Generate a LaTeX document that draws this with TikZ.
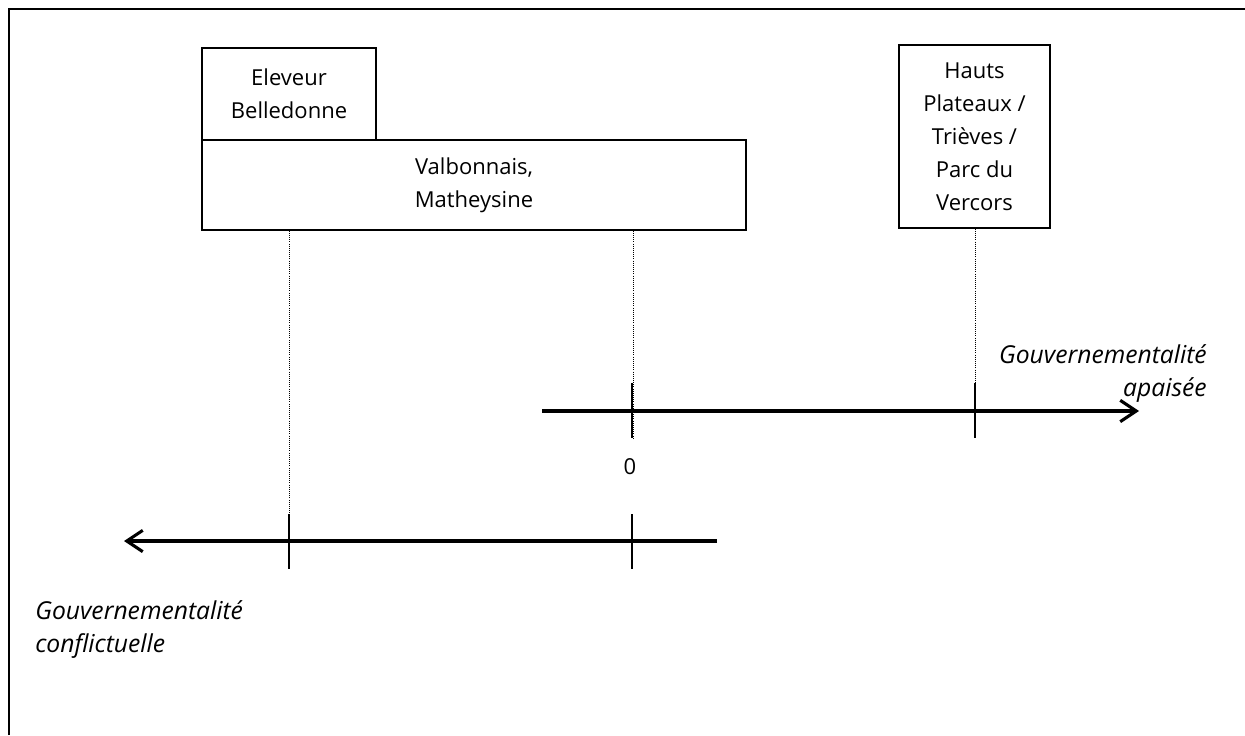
\documentclass[tikz,border=0pt]{standalone}
\usepackage{fontspec}
\setmainfont{Open Sans}
\usetikzlibrary{arrows.meta}
\begin{document}
\begin{tikzpicture}[x=0.75pt,y=-0.75pt,
  box/.style={draw, line width=1.1pt, align=center, inner sep=0pt,
    font=\fontsize{16.5}{24.75}\selectfont},
  axis/.style={line width=2.5pt},
  tick/.style={line width=2pt},
  thintick/.style={line width=1.2pt},
  guide/.style={densely dotted, line width=0.6pt},
  lab/.style={font=\itshape\fontsize{18.5}{24.75}\selectfont, inner sep=0pt},
  barb/.style={-{Straight Barb[length=12pt,width=16pt,line width=2.3pt]}}
]
\useasboundingbox (0,0) rectangle (1245,735);
\draw[line width=2pt] (9,735) -- (9,9) -- (1245,9);

% boxes
\node[box, minimum width=174*0.75pt, minimum height=92*0.75pt] (elev) at (289,94) {Eleveur\\Belledonne};
\node[box, minimum width=544*0.75pt, minimum height=90*0.75pt] (valb) at (474,185) {Valbonnais,\\Matheysine};
\node[box, minimum width=151*0.75pt, minimum height=183*0.75pt] (haut) at (974.5,136.5) {Hauts\\Plateaux /\\Trièves /\\Parc du\\Vercors};

% upper axis
\coordinate (ua) at (542,411);
\coordinate (ub) at (1139,411);
\draw[axis, barb] (ua) -- (ub);
\coordinate (t0a) at (632,383);
\coordinate (t0b) at (632,438);
\coordinate (t1a) at (975,383);
\coordinate (t1b) at (975,438);
\draw[tick] (t0a) -- (t0b);
\draw[tick] (t1a) -- (t1b);
\node[font=\fontsize{16.5}{18}\selectfont, inner sep=0pt] (zero) at (630,467) {0};

% lower axis
\coordinate (la) at (717,541);
\coordinate (lb) at (124,541);
\draw[axis, barb] (la) -- (lb);
\coordinate (s0a) at (289,514);
\coordinate (s0b) at (289,569);
\coordinate (s1a) at (632,514);
\coordinate (s1b) at (632,569);
\draw[thintick] (s0a) -- (s0b);
\draw[thintick] (s1a) -- (s1b);

% dotted guides
\draw[guide] (valb.south -| s0a) -- (s0a);
\draw[guide] ([xshift=1pt]valb.south -| t0a) -- ([xshift=1pt]t0b);
\draw[guide] (haut.south -| t1a) -- (t1a);

% labels
\node[lab, align=right, anchor=north east] (apai) at (1207,344) {Gouvernementalité\\apaisée};
\node[lab, align=left, anchor=north west] (conf) at (35,600) {Gouvernementalité\\conflictuelle};
\end{tikzpicture}
\end{document}
